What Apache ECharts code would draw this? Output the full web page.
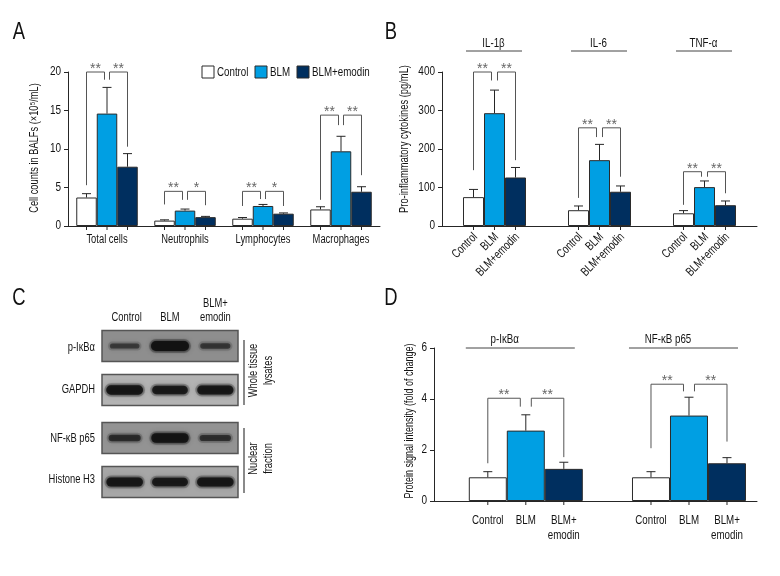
<!DOCTYPE html>
<html><head><meta charset="utf-8">
<script src="https://cdn.jsdelivr.net/npm/echarts@6/dist/echarts.min.js"></script>
<style>html,body{margin:0;padding:0;background:#fff}#c{width:780px;height:576px}</style>
</head><body><div id="c"></div><script>
const FONT = "'Liberation Sans', Arial, sans-serif";

// ---------- Panel A ----------
const aCategories = ['Total cells', 'Neutrophils', 'Lymphocytes', 'Macrophages'];
const aTicks = [0, 5, 10, 15, 20];
const aControl = [3.7, 0.7, 0.95, 2.15];
const aControlSD = [0.5, 0.1, 0.15, 0.35];
const aBLM = [14.6, 2.0, 2.6, 9.7];
const aBLMSD = [3.4, 0.2, 0.2, 1.95];
const aEmodin = [7.7, 1.15, 1.6, 4.45];
const aEmodinSD = [1.7, 0.1, 0.1, 0.65];
// [group, leftBar, rightBar, top, leftLegEnd, rightLegEnd]
const aBrackets = [[0,0,1,20,5.3,19.0],[0,1,2,20,19.0,10.3],[1,0,1,4.5,2.8,3.4],[1,1,2,4.5,3.4,2.7],[2,0,1,4.5,2.6,3.5],[2,1,2,4.5,3.5,2.6],[3,0,1,14.4,3.4,13.1],[3,1,2,14.4,13.1,6.6]];
const aStars = ['**','**','**','*','**','*','**','**'];
const aTitle = 'Cell counts in BALFs (×10⁵/mL)';

// ---------- Panel B ----------
const bGroups = ['IL-1β', 'IL-6', 'TNF-α'];
const bLabels = ['Control', 'BLM', 'BLM+emodin'];
const bTicks = [0, 100, 200, 300, 400];
const bControl = [75, 41, 33];
const bControlSD = [20, 11, 7];
const bBLM = [293, 171, 101];
const bBLMSD = [60, 41, 16];
const bEmodin = [126, 89, 54];
const bEmodinSD = [26, 15, 11];
const bBrackets = [[0,0,1,400,145,378],[0,1,2,400,378,171],[1,0,1,255,73,231],[1,1,2,255,231,128],[2,0,1,141,55,128],[2,1,2,141,128,85]];
const bStars = ['**','**','**','**','**','**'];
const bTitle = 'Pro-inflammatory cytokines (pg/mL)';

// ---------- Panel C (western blot) ----------
const cLanes = ['Control', 'BLM', 'BLM+\nemodin'];
const cRows = ['p-IκBα', 'GAPDH', 'NF-κB p65', 'Histone H3'];
const cBand = [[0.3, 1.0, 0.35], [0.9, 0.8, 0.85], [0.5, 0.95, 0.45], [0.88, 0.82, 0.88]];
const cFractions = ['Whole tissue\nlysates', 'Nuclear\nfraction'];
const cFractionRows = [[0, 1], [2, 3]];

// ---------- Panel D ----------
const dGroups = ['p-IκBα', 'NF-κB p65'];
const dLabels = ['Control', 'BLM', 'BLM+\nemodin'];
const dTicks = [0, 2, 4, 6];
const dControl = [0.93, 0.93];
const dControlSD = [0.22, 0.22];
const dBLM = [2.76, 3.35];
const dBLMSD = [0.62, 0.72];
const dEmodin = [1.26, 1.48];
const dEmodinSD = [0.26, 0.22];
const dBrackets = [[0,0,1,4.03,1.48,3.7],[0,1,2,4.03,3.7,1.72],[1,0,1,4.58,2.07,4.3],[1,1,2,4.58,4.3,2.33]];
const dStars = ['**','**','**','**'];
const dTitle = 'Protein signal intensity (fold of change)';

const treatments = ['Control', 'BLM', 'BLM+emodin'];
const fills = ['#ffffff', '#009fe3', '#002f5f'];
const INK = '#262626';
const TXT = '#141414';
const SX = 0.75;
const D_MIN = 0.4375, D_MAX = 2.4167;

// condensed text element
function T(text, x, y, o) {
  o = o || {};
  const st = { text, x: 0, y: 0, align: o.align || 'center', verticalAlign: o.va || 'middle', fill: o.fill || TXT, fontSize: o.fs || 12, fontFamily: FONT };
  if (o.lh) st.lineHeight = o.lh;
  return { type: 'text', x, y, rotation: o.rot || 0, scaleX: o.sx || SX, style: st };
}
function catAxisX(api) { return api.coord([0, 0])[0] - api.size([1, 0])[0] / 2; }
function valAxisX(api) { return api.coord([D_MIN, 0])[0]; }

function barSeries(vals, ai, xOff, barW) {
  return vals.map((v, i) => ({
    type: 'bar', name: treatments[i], xAxisIndex: ai, yAxisIndex: ai,
    data: v.map((y, g) => xOff === null ? y : [g + xOff, y]),
    barWidth: barW, barGap: '0%',
    itemStyle: { color: fills[i], borderColor: '#2b2b2b', borderWidth: 1 },
    emphasis: { disabled: true }, z: 2
  }));
}
function errData(means, sds, xOff) {
  const out = [];
  means.forEach((m, b) => m.forEach((v, g) => out.push([g + xOff, v, v + sds[b][g], b])));
  return out;
}
function tickData(n, xOff) {
  const out = [];
  for (let g = 0; g < n; g++) for (let b = 0; b < 3; b++) out.push([g + xOff, 0, b]);
  return out;
}
function errSeries(ai, data, barW, cap) {
  return { type: 'custom', xAxisIndex: ai, yAxisIndex: ai, data, z: 5, silent: true,
    renderItem(params, api) {
      const p1 = api.coord([api.value(0), api.value(1)]);
      const p2 = api.coord([api.value(0), api.value(2)]);
      const x = p1[0] + (api.value(3) - 1) * barW;
      return { type: 'group', children: [
        { type: 'line', shape: { x1: x, y1: p1[1], x2: x, y2: p2[1] }, style: { stroke: INK, lineWidth: 1 } },
        { type: 'line', shape: { x1: x - cap, y1: p2[1], x2: x + cap, y2: p2[1] }, style: { stroke: INK, lineWidth: 1 } }
      ]};
    } };
}
function tickSeries(ai, data, barW) {
  return { type: 'custom', xAxisIndex: ai, yAxisIndex: ai, data, z: 5, silent: true,
    renderItem(params, api) {
      const p = api.coord([api.value(0), api.value(1)]);
      const x = p[0] + (api.value(2) - 1) * barW;
      return { type: 'line', shape: { x1: x, y1: p[1], x2: x, y2: p[1] + 4 }, style: { stroke: INK, lineWidth: 1 } };
    } };
}
function yLabelSeries(ai, ticks, x0, axisXFn) {
  return { type: 'custom', xAxisIndex: ai, yAxisIndex: ai, z: 6, silent: true,
    data: ticks.map(t => [x0, t]),
    renderItem(params, api) {
      const y = api.coord([x0, api.value(1)])[1];
      return T(String(ticks[params.dataIndex]), axisXFn(api) - 7, y, { align: 'right', sx: 0.8, fs: 12.5 });
    } };
}
function bracketSeries(ai, list, stars, barW, inner, xOff) {
  return { type: 'custom', xAxisIndex: ai, yAxisIndex: ai, z: 6, silent: true,
    data: list.map(b => [b[0] + xOff, b[3]]),
    renderItem(params, api) {
      const br = list[params.dataIndex];
      const gx = br[0] + xOff;
      const cx = api.coord([gx, 0])[0];
      const xl = cx + (br[1] - 1) * barW + (br[1] === 1 ? inner : 0);
      const xr = cx + (br[2] - 1) * barW - (br[2] === 1 ? inner : 0);
      const yt = api.coord([gx, br[3]])[1];
      const yl = api.coord([gx, br[4]])[1];
      const yr = api.coord([gx, br[5]])[1];
      return { type: 'group', children: [
        { type: 'polyline', shape: { points: [[xl, yl], [xl, yt], [xr, yt], [xr, yr]] }, style: { stroke: '#555', lineWidth: 1, fill: 'none' } },
        { type: 'text', style: { text: stars[params.dataIndex], x: (xl + xr) / 2, y: yt - 3, align: 'center', verticalAlign: 'middle', fill: '#666', fontSize: 14, fontFamily: FONT } }
      ]};
    } };
}

const series = [];
// Panel A
series.push(...barSeries([aControl, aBLM, aEmodin], 0, null, 20.5));
series.push(errSeries(0, errData([aControl, aBLM, aEmodin], [aControlSD, aBLMSD, aEmodinSD], 0), 20.5, 4.5));
series.push(tickSeries(0, tickData(aCategories.length, 0), 20.5));
series.push(bracketSeries(0, aBrackets, aStars, 20.5, 2.5, 0));
series.push(yLabelSeries(0, aTicks, 0, catAxisX));
series.push({ type: 'custom', xAxisIndex: 0, yAxisIndex: 0, silent: true, z: 6,
  data: aCategories.map((c, i) => [i, 0]),
  renderItem(params, api) {
    const p = api.coord([api.value(0), 0]);
    return T(aCategories[params.dataIndex], p[0], p[1] + 14, { fs: 12.5 });
  } });
// Panel B
series.push(...barSeries([bControl, bBLM, bEmodin], 1, null, 21));
series.push(errSeries(1, errData([bControl, bBLM, bEmodin], [bControlSD, bBLMSD, bEmodinSD], 0), 21, 4.5));
series.push(tickSeries(1, tickData(bGroups.length, 0), 21));
series.push(bracketSeries(1, bBrackets, bStars, 21, 3, 0));
series.push(yLabelSeries(1, bTicks, 0, catAxisX));
series.push({ type: 'custom', xAxisIndex: 1, yAxisIndex: 1, silent: true, z: 6,
  data: tickData(bGroups.length, 0),
  renderItem(params, api) {
    const p = api.coord([api.value(0), 0]);
    const x = p[0] + (api.value(2) - 1) * 21;
    return T(bLabels[api.value(2)], x + 2, p[1] + 9, { rot: Math.PI / 4, align: 'right', fs: 12.5 });
  } });
series.push({ type: 'custom', xAxisIndex: 1, yAxisIndex: 1, silent: true, z: 6,
  data: bGroups.map((g, i) => [i, bTicks[bTicks.length - 1]]),
  renderItem(params, api) {
    const p = api.coord([api.value(0), api.value(1)]);
    return { type: 'group', children: [
      { type: 'line', shape: { x1: p[0] - 28.5, y1: p[1] - 21, x2: p[0] + 27.5, y2: p[1] - 21 }, style: { stroke: '#444', lineWidth: 1 } },
      T(bGroups[params.dataIndex], p[0] - 1, p[1] - 29, { fs: 13 })
    ]};
  } });
// Panel D
series.push(...barSeries([dControl, dBLM, dEmodin], 3, 1, 38));
series.push(errSeries(3, errData([dControl, dBLM, dEmodin], [dControlSD, dBLMSD, dEmodinSD], 1), 38, 4.5));
series.push(tickSeries(3, tickData(dGroups.length, 1), 38));
series.push(bracketSeries(3, dBrackets, dStars, 38, 5.5, 1));
series.push(yLabelSeries(3, dTicks, D_MIN, valAxisX));
series.push({ type: 'custom', xAxisIndex: 3, yAxisIndex: 3, silent: true, z: 6,
  data: tickData(dGroups.length, 1),
  renderItem(params, api) {
    const p = api.coord([api.value(0), 0]);
    const x = p[0] + (api.value(2) - 1) * 38;
    return T(dLabels[api.value(2)], x, p[1] + 12, { va: 'top', lh: 15, fs: 13 });
  } });
series.push({ type: 'custom', xAxisIndex: 3, yAxisIndex: 3, silent: true, z: 6,
  data: dGroups.map((g, i) => [i + 1, dTicks[dTicks.length - 1]]),
  renderItem(params, api) {
    const p = api.coord([api.value(0), api.value(1)]);
    return { type: 'group', children: [
      { type: 'line', shape: { x1: p[0] - 60, y1: p[1], x2: p[0] + 49, y2: p[1] }, style: { stroke: '#444', lineWidth: 1 } },
      T(dGroups[params.dataIndex], p[0] - 21, p[1] - 9, { fs: 13 })
    ]};
  } });
// Panel C
const boxFill = ['#8e8e8e', '#b3b3b3', '#939393', '#a7a7a7'];
function rowShift(r) { return r < 2 ? -2 : 2; }
series.push({ type: 'custom', xAxisIndex: 2, yAxisIndex: 2, silent: true, z: 2,
  data: cRows.map((r, i) => [1, i]),
  renderItem(params, api) {
    const r = api.value(1);
    const c = api.coord([1, r]);
    const laneW = api.size([1, 0])[0];
    const w = laneW * 3, h = 31;
    const cy = c[1] + rowShift(r);
    return { type: 'group', children: [
      { type: 'rect', shape: { x: c[0] - w / 2, y: cy - h / 2, width: w, height: h }, style: { fill: boxFill[r], stroke: '#555', lineWidth: 1.5 } },
      T(cRows[r], c[0] - w / 2 - 7, c[1] + (r === 1 ? -2 : r === 2 ? 3 : 0), { align: 'right', fs: 12.5 })
    ]};
  } });
const bandData = [];
cBand.forEach((row, r) => row.forEach((v, l) => bandData.push([l, r, v])));
series.push({ type: 'custom', xAxisIndex: 2, yAxisIndex: 2, silent: true, z: 3,
  data: bandData,
  renderItem(params, api) {
    const l = api.value(0), r = api.value(1), I = api.value(2);
    const c = api.coord([l, r]);
    const w = 26 + 12 * I, h = 3 + 7 * I;
    const a = 0.35 + 0.6 * I;
    const cy = c[1] + rowShift(r);
    return { type: 'group', children: [
      { type: 'rect', shape: { x: c[0] - w / 2 - 2, y: cy - h / 2 - 2, width: w + 4, height: h + 4, r: (h + 4) / 2 }, style: { fill: 'rgba(40,40,40,' + (a * 0.3) + ')', shadowBlur: 5, shadowColor: 'rgba(40,40,40,' + (a * 0.5) + ')' } },
      { type: 'rect', shape: { x: c[0] - w / 2, y: cy - h / 2, width: w, height: h, r: h / 2 }, style: { fill: 'rgba(18,18,18,' + a + ')', shadowBlur: 3, shadowColor: 'rgba(18,18,18,' + a + ')' } }
    ]};
  } });
series.push({ type: 'custom', xAxisIndex: 2, yAxisIndex: 2, silent: true, z: 3,
  data: cLanes.map((n, i) => [i, 0]),
  renderItem(params, api) {
    const p = api.coord([api.value(0), 0]);
    const top = p[1] - api.size([0, 1])[1] / 2;
    return T(cLanes[params.dataIndex], p[0] + (params.dataIndex === 0 ? 2 : 0), top - 1, { va: 'bottom', lh: 14, fs: 12.5 });
  } });
series.push({ type: 'custom', xAxisIndex: 2, yAxisIndex: 2, silent: true, z: 3,
  data: cFractionRows.map(fr => [2, fr[0]]),
  renderItem(params, api) {
    const fr = cFractionRows[params.dataIndex];
    const laneW = api.size([1, 0])[0];
    const x = api.coord([2, 0])[0] + laneW / 2 + 6;
    const y1 = api.coord([2, fr[0]])[1] - 8;
    const y2 = api.coord([2, fr[1]])[1] + 13;
    return { type: 'group', children: [
      { type: 'line', shape: { x1: x, y1: y1, x2: x, y2: y2 }, style: { stroke: '#8a8a8a', lineWidth: 2 } },
      T(cFractions[params.dataIndex], x + 17, (y1 + y2) / 2 - 2, { rot: Math.PI / 2, lh: 15, fs: 12.5 })
    ]};
  } });

const axisLineStyle = { lineStyle: { color: INK, width: 1 } };
function yAx(ai, ticks) {
  return { type: 'value', gridIndex: ai, min: ticks[0], max: ticks[ticks.length - 1], interval: ticks[1] - ticks[0],
    axisLine: Object.assign({ show: true }, axisLineStyle), axisTick: { show: true, length: 4, lineStyle: { color: INK } },
    axisLabel: { show: false }, splitLine: { show: false } };
}

// panel letters, axis titles and legend (layout only)
const legendX = [202, 255, 297];
const graphic = [
  T('A', 19, 33, { fs: 23, sx: 0.8, fill: '#111' }),
  T('B', 391, 33, { fs: 23, sx: 0.8, fill: '#111' }),
  T('C', 19, 299, { fs: 23, sx: 0.8, fill: '#111' }),
  T('D', 391, 299, { fs: 23, sx: 0.8, fill: '#111' }),
  T(aTitle, 35, 148, { rot: Math.PI / 2, fs: 12.5, sx: 0.74 }),
  T(bTitle, 405, 139, { rot: Math.PI / 2, fs: 12.5, sx: 0.75 }),
  T(dTitle, 410, 421, { rot: Math.PI / 2, fs: 12.5, sx: 0.72 })
];
treatments.forEach((t, i) => {
  graphic.push({ type: 'rect', shape: { x: legendX[i], y: 66, width: 12, height: 12 }, style: { fill: fills[i], stroke: '#2b2b2b', lineWidth: 1 } });
  graphic.push(T(t, legendX[i] + 15, 72, { align: 'left', fs: 13 }));
});

const option = {
  animation: false,
  textStyle: { fontFamily: FONT },
  graphic,
  grid: [
    { left: 68, top: 72, width: 312, height: 154 },
    { left: 442, top: 72, width: 315, height: 154 },
    { left: 102, top: 326, width: 136, height: 176 },
    { left: 434, top: 348, width: 323, height: 153 }
  ],
  xAxis: [
    { type: 'category', gridIndex: 0, data: aCategories, axisLine: axisLineStyle, axisTick: { show: false }, axisLabel: { show: false } },
    { type: 'category', gridIndex: 1, data: bGroups, axisLine: axisLineStyle, axisTick: { show: false }, axisLabel: { show: false } },
    { type: 'category', gridIndex: 2, data: cLanes, position: 'top', axisLine: { show: false }, axisTick: { show: false }, axisLabel: { show: false } },
    { type: 'value', gridIndex: 3, min: D_MIN, max: D_MAX, axisLine: Object.assign({ show: true }, axisLineStyle), axisTick: { show: false }, axisLabel: { show: false }, splitLine: { show: false } }
  ],
  yAxis: [
    yAx(0, aTicks),
    yAx(1, bTicks),
    { type: 'category', gridIndex: 2, data: cRows, inverse: true, axisLine: { show: false }, axisTick: { show: false }, axisLabel: { show: false } },
    yAx(3, dTicks)
  ],
  series
};
const chart = echarts.init(document.getElementById('c'), null, { renderer: 'canvas' });
chart.setOption(option);
</script></body></html>
